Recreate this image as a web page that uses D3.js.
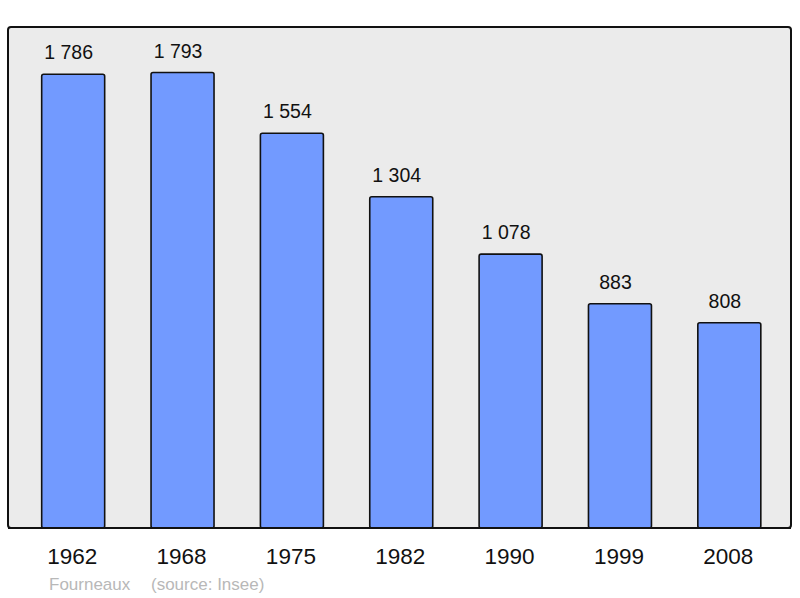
<!DOCTYPE html>
<html><head><meta charset="utf-8">
<script src="https://cdn.jsdelivr.net/npm/d3@7"></script>
<style>body{margin:0;background:#fff}svg{display:block}</style>
</head><body>
<script>
const years = ["1962","1968","1975","1982","1990","1999","2008"];
const population = [1786,1793,1554,1304,1078,883,808];
const valueLabels = ["1 786","1 793","1 554","1 304","1 078","883","808"];
const commune = "Fourneaux";
const source = "(source: Insee)";

const W = 800, H = 598;
const svg = d3.select("body").append("svg").attr("width", W).attr("height", H);
const frame = {x0: 8, y0: 27, x1: 791, y1: 528};
const font = "Liberation Sans, Arial, sans-serif";

svg.append("rect").attr("x", frame.x0).attr("y", frame.y0)
  .attr("width", frame.x1 - frame.x0).attr("height", frame.y1 - frame.y0)
  .attr("rx", 3).attr("fill", "#ebebeb").attr("stroke", "#111").attr("stroke-width", 2);

const x = d3.scaleBand().domain(years).range([18.5, 784]).paddingInner(0.424).paddingOuter(0.212);
const y = d3.scaleLinear().domain([0, d3.max(population) * 1.1]).range([frame.y1, frame.y0]);

const g = svg.append("g");
g.selectAll("rect.bar").data(years).join("rect").attr("class", "bar")
  .attr("x", d => x(d)).attr("width", x.bandwidth())
  .attr("y", (d, i) => y(population[i])).attr("height", (d, i) => frame.y1 - y(population[i]))
  .attr("rx", 2).attr("fill", "#729aff").attr("stroke", "#111").attr("stroke-width", 1.6);

svg.append("line").attr("x1", frame.x0).attr("x2", frame.x1).attr("y1", frame.y1).attr("y2", frame.y1)
  .attr("stroke", "#111").attr("stroke-width", 2);

g.selectAll("text.val").data(years).join("text").attr("class", "val")
  .attr("x", d => x(d) + x.bandwidth() / 2 - 4.5)
  .attr("y", (d, i) => y(population[i]) - 15)
  .attr("text-anchor", "middle").attr("font-family", font)
  .attr("font-size", 19.5).attr("fill", "#111").text((d, i) => valueLabels[i]);

const xAxis = d3.axisBottom(x).tickSize(0).tickPadding(0);
const ax = svg.append("g").attr("transform", `translate(-1,${frame.y1 + 36})`).call(xAxis);
ax.select(".domain").remove();
ax.selectAll("text").attr("font-family", font)
  .attr("font-size", 22.5).attr("fill", "#111").attr("dy", 0);

svg.append("text").attr("x", 49).attr("y", 590)
  .attr("font-family", font).attr("font-size", 17)
  .attr("fill", "#b8b8b8").text(commune);
svg.append("text").attr("x", 151).attr("y", 590)
  .attr("font-family", font).attr("font-size", 17)
  .attr("fill", "#b8b8b8").text(source);
</script>
</body></html>
